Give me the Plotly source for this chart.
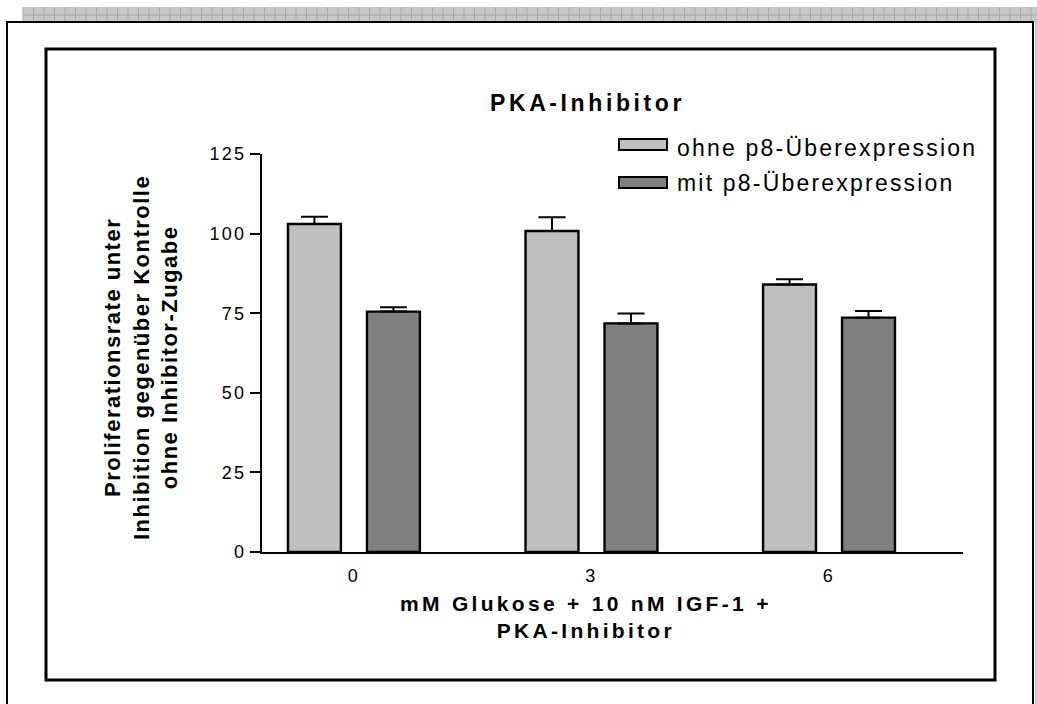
import plotly.graph_objects as go

# ---------------- data ----------------
categories = ["0", "3", "6"]
series_names = ["ohne p8-Überexpression", "mit p8-Überexpression"]
ohne_values = [103.0, 100.8, 84.0]
ohne_errors = [2.3, 4.3, 1.7]
mit_values = [75.5, 71.8, 73.6]
mit_errors = [1.4, 3.1, 2.1]
y_tick_values = [0, 25, 50, 75, 100, 125]
y_tick_labels = ["0", "25", "50", "75", "100", "125"]
title_text = "PKA-Inhibitor"
y_title_lines = ["Proliferationsrate unter", "Inhibition gegenüber Kontrolle", "ohne Inhibitor-Zugabe"]
x_title_lines = ["mM Glukose + 10 nM IGF-1 +", "PKA-Inhibitor"]

# ---------------- style ----------------
W, H = 1037, 704
FONT = "Liberation Sans, Arial, sans-serif"
LIGHT = "#C0C0C0"
DARK = "#808080"


def fx(px):
    return px / W


def fy(py):
    return 1 - py / H


def sp(text, ls):
    return f"<span style='letter-spacing:{ls}px'>{text}</span>"


fig = go.Figure()
for name, vals, errs, col in [
    (series_names[0], ohne_values, ohne_errors, LIGHT),
    (series_names[1], mit_values, mit_errors, DARK),
]:
    fig.add_trace(go.Bar(
        x=categories, y=vals, name=name,
        marker=dict(color=col, line=dict(color="black", width=2.4)),
        error_y=dict(type="data", array=errs, arrayminus=[0] * len(errs), symmetric=False,
                     color="black", thickness=2, width=13.5),
    ))

shapes = []
# hatched grey band at top
shapes.append(dict(type="rect", xref="paper", yref="paper", x0=fx(23), x1=fx(1037), y0=fy(22), y1=fy(7),
                   fillcolor="#C8C8C8", line=dict(width=0), layer="below"))
path = ""
x = 23.0
while x < 1037:
    path += f"M{fx(x)},{fy(22)} L{fx(x)},{fy(7)} "
    x += 10.5
path += f"M{fx(23)},{fy(15)} L{fx(1037)},{fy(15)}"
shapes.append(dict(type="path", xref="paper", yref="paper", path=path,
                   line=dict(color="#A8A8A8", width=1), layer="below"))
# right grey strip
shapes.append(dict(type="rect", xref="paper", yref="paper", x0=fx(1035), x1=fx(1037), y0=fy(720), y1=fy(22),
                   fillcolor="#C8C8C8", line=dict(width=0), layer="below"))
# outer frame
shapes.append(dict(type="rect", xref="paper", yref="paper", x0=fx(7), x1=fx(1033), y0=fy(730), y1=fy(22),
                   line=dict(color="black", width=2), fillcolor="rgba(0,0,0,0)", layer="below"))
# inner frame
shapes.append(dict(type="rect", xref="paper", yref="paper", x0=fx(46), x1=fx(995), y0=fy(680), y1=fy(49),
                   line=dict(color="black", width=3), fillcolor="rgba(0,0,0,0)", layer="below"))
# legend swatches
for (top, bot), col in [((139, 150), LIGHT), ((177, 188), DARK)]:
    shapes.append(dict(type="rect", xref="paper", yref="paper", x0=fx(619), x1=fx(667), y0=fy(bot), y1=fy(top),
                       fillcolor=col, line=dict(color="black", width=2)))

annotations = []
annotations.append(dict(xref="paper", yref="paper", x=fx(587), y=fy(103), xanchor="center", yanchor="middle",
                        text="<b>" + sp(title_text, 3.6) + "</b>", showarrow=False,
                        font=dict(family=FONT, size=23, color="black")))
for i, (name, yc) in enumerate(zip(series_names, [148, 183])):
    annotations.append(dict(xref="paper", yref="paper", x=fx(675), y=fy(yc), xanchor="left", yanchor="middle",
                            text=sp(name, 2.2), showarrow=False,
                            font=dict(family=FONT, size=23, color="black")))
annotations.append(dict(xref="paper", yref="paper", x=fx(141), y=fy(358), xanchor="center", yanchor="middle",
                        text="<b>" + "<br>".join(sp(t, 1.5) for t in y_title_lines) + "</b>",
                        textangle=-90, showarrow=False,
                        font=dict(family=FONT, size=22, color="black")))
annotations.append(dict(xref="paper", yref="paper", x=fx(586), y=fy(617), xanchor="center", yanchor="middle",
                        text="<b>" + "<br>".join(sp(t, 3.3) for t in x_title_lines) + "</b>",
                        showarrow=False, font=dict(family=FONT, size=21, color="black")))

fig.update_layout(
    width=W, height=H, autosize=False,
    margin=dict(l=0, r=0, t=0, b=0, pad=0, autoexpand=False),
    paper_bgcolor="white", plot_bgcolor="white",
    barmode="group", bargap=0.335, bargroupgap=0.33,
    showlegend=False,
    font=dict(family=FONT, color="black"),
    shapes=shapes, annotations=annotations,
    xaxis=dict(domain=[fx(262), fx(963)], type="category", range=[-0.387, 2.564],
               automargin=False,
               showline=True, linecolor="black", linewidth=2,
               ticks="outside", ticklen=6, tickcolor="rgba(0,0,0,0)",
               tickvals=categories, ticktext=[sp(c, 2.3) for c in categories],
               tickfont=dict(family=FONT, size=18, color="black"),
               showgrid=False, zeroline=False, fixedrange=True),
    yaxis=dict(domain=[fy(552), fy(154)], range=[0, 125],
               automargin=False,
               showline=True, linecolor="black", linewidth=2,
               ticks="outside", ticklen=10, tickwidth=2, tickcolor="black",
               tickvals=y_tick_values, ticktext=[sp(t, 2.3) for t in y_tick_labels],
               tickfont=dict(family=FONT, size=18, color="black"),
               showgrid=False, zeroline=False, fixedrange=True),
)

fig.write_html("out.html", config={"displayModeBar": False},
               post_script="document.body.style.margin='0';")
